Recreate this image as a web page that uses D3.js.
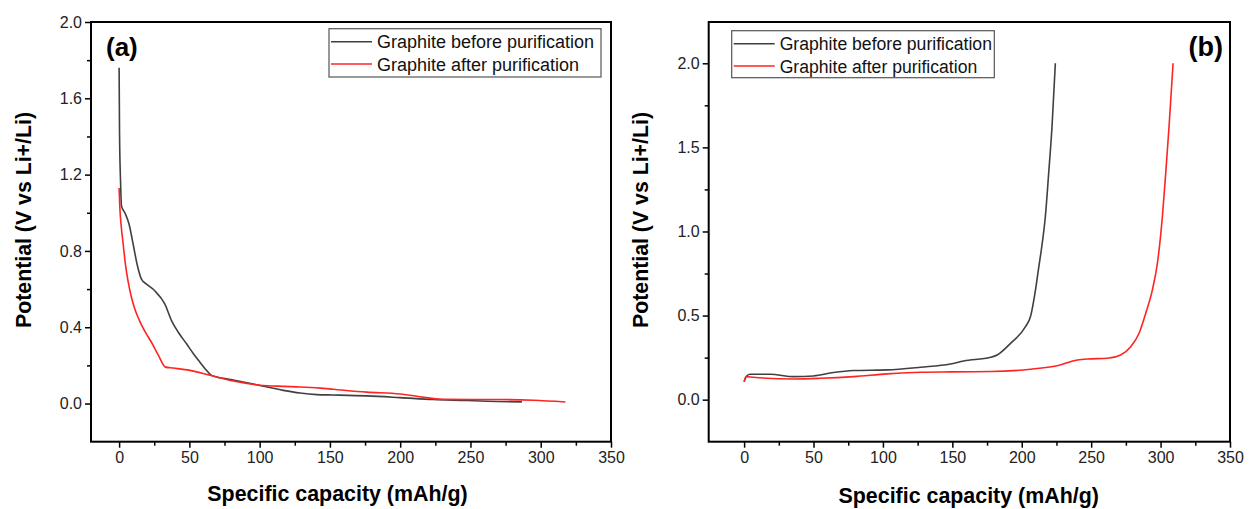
<!DOCTYPE html>
<html><head><meta charset="utf-8">
<script src="https://cdn.jsdelivr.net/npm/d3@7"></script>
<style>body{margin:0;background:#fff}svg{display:block}text{font-family:Arial,"Liberation Sans",sans-serif}</style>
</head><body>
<svg id="c" width="1251" height="509"></svg>
<script>
// ---- data ----
const seriesNames = ["Graphite before purification", "Graphite after purification"];
const capA_before = [0,0.3,1,1.7,4.1,7.1,10,12.8,15.9,19.5,25.4,32.5,37.3,42,48,53,57.5,61.5,65,70,76.5,88.3,100.2,116.8,128.7,140.6,152.4,176.2,199.9,223.6,247.4,261.7,286.6];
const potA_before = [1.76,1.42,1.17,1.035,1.0,0.94,0.835,0.73,0.652,0.626,0.591,0.522,0.435,0.375,0.313,0.26,0.217,0.18,0.152,0.138,0.130,0.113,0.095,0.069,0.055,0.047,0.045,0.040,0.031,0.021,0.016,0.012,0.009];
const capA_after = [0,0.5,1.5,2.9,4.5,6.4,8.5,11,14.5,19,23.1,27.8,33,38.5,50.4,64.6,81.2,100.2,116.8,128.7,143,152.4,176.2,200,211.8,230.8,271.2,295,317.5];
const potA_after = [1.13,1.03,0.93,0.835,0.73,0.64,0.565,0.50,0.435,0.37,0.32,0.255,0.191,0.186,0.174,0.148,0.118,0.096,0.090,0.087,0.081,0.075,0.060,0.050,0.038,0.022,0.021,0.017,0.008];
const capB_before = [0,1.9,4.3,18.8,35.6,50,64.4,78.9,103,127.1,148.6,158.2,177.5,182.3,191.9,202.7,206.3,209.9,212.3,214.1,217,219.4,221.8,224.2];
const potB_before = [0.107,0.141,0.151,0.151,0.137,0.141,0.161,0.173,0.177,0.193,0.212,0.230,0.252,0.266,0.335,0.434,0.494,0.653,0.791,0.891,1.089,1.347,1.624,2.0];
const capB_after = [0,1.4,6.7,35.6,54.8,78.9,103,127,148.6,177.5,206.3,225.5,240,247.2,261.6,271.2,278.5,284.5,289.3,294.1,297.7,301.3,303.7,306.1,309];
const potB_after = [0.107,0.137,0.133,0.123,0.127,0.137,0.153,0.163,0.165,0.167,0.181,0.202,0.236,0.242,0.246,0.266,0.315,0.395,0.514,0.653,0.811,1.089,1.347,1.624,2.0];
const xMajor = [0,50,100,150,200,250,300,350];
const xMinor = [25,75,125,175,225,275,325];
const yMajorA = [0,0.4,0.8,1.2,1.6,2.0];
const yMinorA = [0.2,0.6,1.0,1.4,1.8];
const yMajorB = [0,0.5,1.0,1.5,2.0];
const yMinorB = [0.25,0.75,1.25,1.75];
const colors = ["#404040", "#ff2424"];

const svg = d3.select("#c");

function panel(cfg){
  const g = svg.append("g");
  const x = d3.scaleLinear().domain(cfg.xd).range([cfg.l, cfg.r]);
  const y = d3.scaleLinear().domain(cfg.yd).range([cfg.b, cfg.t]);
  g.append("g").attr("transform",`translate(0,${cfg.b})`)
    .call(d3.axisBottom(x).tickValues(xMajor).tickSize(6).tickSizeOuter(0).tickPadding(4).tickFormat(d3.format("d")));
  g.append("g").attr("transform",`translate(0,${cfg.b})`)
    .call(d3.axisBottom(x).tickValues(xMinor).tickSize(4).tickSizeOuter(0).tickFormat(""));
  g.append("g").attr("transform",`translate(${cfg.l},0)`)
    .call(d3.axisLeft(y).tickValues(cfg.yMajor).tickSize(6).tickSizeOuter(0).tickPadding(3).tickFormat(d3.format(".1f")));
  g.append("g").attr("transform",`translate(${cfg.l},0)`)
    .call(d3.axisLeft(y).tickValues(cfg.yMinor).tickSize(4).tickSizeOuter(0).tickFormat(""));
  g.selectAll(".domain").remove();
  g.selectAll(".tick line").attr("stroke","#000").attr("stroke-width",1.5);
  g.selectAll(".tick text").attr("font-size",16).attr("fill","#222").style("font-family","Arial, 'Liberation Sans', sans-serif");
  g.append("rect").attr("x",cfg.l).attr("y",cfg.t).attr("width",cfg.r-cfg.l).attr("height",cfg.b-cfg.t)
    .attr("fill","none").attr("stroke","#000").attr("stroke-width",2);
  const line = d3.line().x(d=>x(d[0])).y(d=>y(d[1])).curve(d3.curveMonotoneX);
  cfg.series.forEach((s,i)=>{
    const pts = s.cap.map((c,k)=>[c,s.pot[k]]);
    g.append("path").attr("d",line(pts)).attr("fill","none").attr("stroke",colors[i]).attr("stroke-width",1.6);
  });
  g.append("text").attr("x",cfg.xtX).attr("y",cfg.xtY).attr("text-anchor","middle")
    .attr("font-size",21.4).attr("font-weight","bold").text("Specific capacity (mAh/g)");
  g.append("text").attr("transform",`translate(${cfg.ytX},${220}) rotate(-90)`).attr("text-anchor","middle")
    .attr("font-size",21.3).attr("font-weight","bold").text("Potential (V vs Li+/Li)");
  g.append("text").attr("x",cfg.lab[0]).attr("y",cfg.lab[1]).attr("font-size",cfg.lab[2]).attr("font-weight","bold")
    .attr("text-anchor",cfg.lab[3]).text(cfg.label);
  const L = cfg.leg;
  g.append("rect").attr("x",L.x).attr("y",L.y).attr("width",L.w).attr("height",L.h)
    .attr("fill","#fff").attr("stroke","#555").attr("stroke-width",1.2);
  seriesNames.forEach((n,i)=>{
    const yy = L.y + 13 + i*22.3;
    g.append("line").attr("x1",L.x+2).attr("x2",L.x+43).attr("y1",yy).attr("y2",yy)
      .attr("stroke",colors[i]).attr("stroke-width",1.6);
    g.append("text").attr("x",L.x+48).attr("y",yy+6.5).attr("font-size",L.fs).attr("fill","#111").text(n);
  });
}

panel({l:91,r:611,t:22,b:441.7,xd:[-20,350],yd:[-0.2,2.0],yMajor:yMajorA,yMinor:yMinorA,
  xtX:337.5,xtY:501,ytX:31,label:"(a)",lab:[106,56,26,"start"],
  leg:{x:329,y:28.7,w:272,h:48.3,fs:18},
  series:[{cap:capA_before,pot:potA_before},{cap:capA_after,pot:potA_after}]});
panel({l:708.7,r:1230,t:22,b:441.7,xd:[-25.5,350],yd:[-0.25,2.2455],yMajor:yMajorB,yMinor:yMinorB,
  xtX:968.7,xtY:503,ytX:648,label:"(b)",lab:[1223,56,27,"end"],
  leg:{x:731.7,y:30.7,w:262.6,h:47,fs:17.6},
  series:[{cap:capB_before,pot:potB_before},{cap:capB_after,pot:potB_after}]});
</script>
</body></html>
